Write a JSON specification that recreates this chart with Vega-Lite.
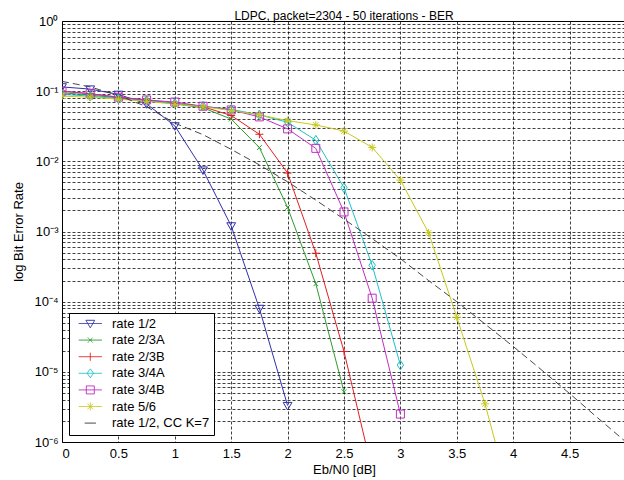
{
  "$schema": "https://vega.github.io/schema/vega-lite/v6.json",
  "width": 564,
  "height": 421,
  "autosize": {"type": "none"},
  "padding": {"left": 62, "top": 21, "right": 0, "bottom": 38},
  "background": "white",
  "title": {"text": "LDPC, packet=2304 - 50 iterations - BER", "font": "Liberation Sans", "fontSize": 12, "fontWeight": "normal", "color": "black", "offset": 5, "dy": 13, "anchor": "middle"},
  "config": {
    "view": {"stroke": "black", "strokeWidth": 1},
    "axis": {
      "labelFont": "Liberation Sans", "labelFontSize": 13, "labelColor": "black",
      "titleFont": "Liberation Sans", "titleFontSize": 13, "titleFontWeight": "normal", "titleColor": "black",
      "domain": false, "ticks": false,
      "gridColor": "black", "gridDash": [3, 2], "gridWidth": 1, "gridOpacity": 0.75,
      "labelOverlap": false
    }
  },
  "data": {"values": [
    {"series": "rate 1/2", "ebn0": 0, "ber": 0.115},
    {"series": "rate 1/2", "ebn0": 0.25, "ber": 0.107},
    {"series": "rate 1/2", "ebn0": 0.5, "ber": 0.09},
    {"series": "rate 1/2", "ebn0": 0.75, "ber": 0.066},
    {"series": "rate 1/2", "ebn0": 1, "ber": 0.032},
    {"series": "rate 1/2", "ebn0": 1.25, "ber": 0.0075},
    {"series": "rate 1/2", "ebn0": 1.5, "ber": 0.0012},
    {"series": "rate 1/2", "ebn0": 1.75, "ber": 0.00008},
    {"series": "rate 1/2", "ebn0": 2, "ber": 0.0000033},
    {"series": "rate 2/3A", "ebn0": 0, "ber": 0.095},
    {"series": "rate 2/3A", "ebn0": 0.25, "ber": 0.088},
    {"series": "rate 2/3A", "ebn0": 0.5, "ber": 0.08},
    {"series": "rate 2/3A", "ebn0": 0.75, "ber": 0.074},
    {"series": "rate 2/3A", "ebn0": 1, "ber": 0.066},
    {"series": "rate 2/3A", "ebn0": 1.25, "ber": 0.058},
    {"series": "rate 2/3A", "ebn0": 1.5, "ber": 0.04},
    {"series": "rate 2/3A", "ebn0": 1.75, "ber": 0.0157},
    {"series": "rate 2/3A", "ebn0": 2, "ber": 0.0022},
    {"series": "rate 2/3A", "ebn0": 2.25, "ber": 0.00018},
    {"series": "rate 2/3A", "ebn0": 2.5, "ber": 0.0000052},
    {"series": "rate 2/3B", "ebn0": 0, "ber": 0.1},
    {"series": "rate 2/3B", "ebn0": 0.25, "ber": 0.092},
    {"series": "rate 2/3B", "ebn0": 0.5, "ber": 0.082},
    {"series": "rate 2/3B", "ebn0": 0.75, "ber": 0.075},
    {"series": "rate 2/3B", "ebn0": 1, "ber": 0.067},
    {"series": "rate 2/3B", "ebn0": 1.25, "ber": 0.06},
    {"series": "rate 2/3B", "ebn0": 1.5, "ber": 0.045},
    {"series": "rate 2/3B", "ebn0": 1.75, "ber": 0.0243},
    {"series": "rate 2/3B", "ebn0": 2, "ber": 0.0068},
    {"series": "rate 2/3B", "ebn0": 2.25, "ber": 0.00049},
    {"series": "rate 2/3B", "ebn0": 2.5, "ber": 0.0000195},
    {"series": "rate 2/3B", "ebn0": 2.75, "ber": 0.00000039},
    {"series": "rate 3/4A", "ebn0": 0, "ber": 0.09},
    {"series": "rate 3/4A", "ebn0": 0.25, "ber": 0.085},
    {"series": "rate 3/4A", "ebn0": 0.5, "ber": 0.078},
    {"series": "rate 3/4A", "ebn0": 0.75, "ber": 0.073},
    {"series": "rate 3/4A", "ebn0": 1, "ber": 0.067},
    {"series": "rate 3/4A", "ebn0": 1.25, "ber": 0.061},
    {"series": "rate 3/4A", "ebn0": 1.5, "ber": 0.055},
    {"series": "rate 3/4A", "ebn0": 1.75, "ber": 0.046},
    {"series": "rate 3/4A", "ebn0": 2, "ber": 0.036},
    {"series": "rate 3/4A", "ebn0": 2.25, "ber": 0.02},
    {"series": "rate 3/4A", "ebn0": 2.5, "ber": 0.0042},
    {"series": "rate 3/4A", "ebn0": 2.75, "ber": 0.00033},
    {"series": "rate 3/4A", "ebn0": 3, "ber": 0.0000125},
    {"series": "rate 3/4B", "ebn0": 0, "ber": 0.1},
    {"series": "rate 3/4B", "ebn0": 0.25, "ber": 0.092},
    {"series": "rate 3/4B", "ebn0": 0.5, "ber": 0.082},
    {"series": "rate 3/4B", "ebn0": 0.75, "ber": 0.075},
    {"series": "rate 3/4B", "ebn0": 1, "ber": 0.07},
    {"series": "rate 3/4B", "ebn0": 1.25, "ber": 0.061},
    {"series": "rate 3/4B", "ebn0": 1.5, "ber": 0.054},
    {"series": "rate 3/4B", "ebn0": 1.75, "ber": 0.043},
    {"series": "rate 3/4B", "ebn0": 2, "ber": 0.029},
    {"series": "rate 3/4B", "ebn0": 2.25, "ber": 0.0153},
    {"series": "rate 3/4B", "ebn0": 2.5, "ber": 0.0019},
    {"series": "rate 3/4B", "ebn0": 2.75, "ber": 0.000112},
    {"series": "rate 3/4B", "ebn0": 3, "ber": 0.0000025},
    {"series": "rate 5/6", "ebn0": 0, "ber": 0.085},
    {"series": "rate 5/6", "ebn0": 0.25, "ber": 0.082},
    {"series": "rate 5/6", "ebn0": 0.5, "ber": 0.077},
    {"series": "rate 5/6", "ebn0": 0.75, "ber": 0.072},
    {"series": "rate 5/6", "ebn0": 1, "ber": 0.065},
    {"series": "rate 5/6", "ebn0": 1.25, "ber": 0.06},
    {"series": "rate 5/6", "ebn0": 1.5, "ber": 0.053},
    {"series": "rate 5/6", "ebn0": 1.75, "ber": 0.046},
    {"series": "rate 5/6", "ebn0": 2, "ber": 0.038},
    {"series": "rate 5/6", "ebn0": 2.25, "ber": 0.033},
    {"series": "rate 5/6", "ebn0": 2.5, "ber": 0.027},
    {"series": "rate 5/6", "ebn0": 2.75, "ber": 0.0158},
    {"series": "rate 5/6", "ebn0": 3, "ber": 0.0054},
    {"series": "rate 5/6", "ebn0": 3.25, "ber": 0.00096},
    {"series": "rate 5/6", "ebn0": 3.5, "ber": 0.00006},
    {"series": "rate 5/6", "ebn0": 3.75, "ber": 0.0000035},
    {"series": "rate 5/6", "ebn0": 4, "ber": 0.00000011},
    {"series": "rate 1/2, CC K=7", "ebn0": 0, "ber": 0.138},
    {"series": "rate 1/2, CC K=7", "ebn0": 0.25, "ber": 0.115},
    {"series": "rate 1/2, CC K=7", "ebn0": 0.5, "ber": 0.087},
    {"series": "rate 1/2, CC K=7", "ebn0": 0.75, "ber": 0.06},
    {"series": "rate 1/2, CC K=7", "ebn0": 1, "ber": 0.035},
    {"series": "rate 1/2, CC K=7", "ebn0": 1.25, "ber": 0.024},
    {"series": "rate 1/2, CC K=7", "ebn0": 1.5, "ber": 0.0148},
    {"series": "rate 1/2, CC K=7", "ebn0": 1.75, "ber": 0.0089},
    {"series": "rate 1/2, CC K=7", "ebn0": 2, "ber": 0.0051},
    {"series": "rate 1/2, CC K=7", "ebn0": 2.25, "ber": 0.0028},
    {"series": "rate 1/2, CC K=7", "ebn0": 2.5, "ber": 0.0015},
    {"series": "rate 1/2, CC K=7", "ebn0": 2.75, "ber": 0.00079},
    {"series": "rate 1/2, CC K=7", "ebn0": 3, "ber": 0.00041},
    {"series": "rate 1/2, CC K=7", "ebn0": 3.25, "ber": 0.0002},
    {"series": "rate 1/2, CC K=7", "ebn0": 3.5, "ber": 0.0001},
    {"series": "rate 1/2, CC K=7", "ebn0": 3.75, "ber": 0.000048},
    {"series": "rate 1/2, CC K=7", "ebn0": 4, "ber": 0.000023},
    {"series": "rate 1/2, CC K=7", "ebn0": 4.25, "ber": 0.0000107},
    {"series": "rate 1/2, CC K=7", "ebn0": 4.5, "ber": 0.0000049},
    {"series": "rate 1/2, CC K=7", "ebn0": 4.75, "ber": 0.0000022},
    {"series": "rate 1/2, CC K=7", "ebn0": 5, "ber": 0.000001}
  ]},
  "encoding": {
    "x": {"field": "ebn0", "type": "quantitative", "scale": {"domain": [0, 5], "nice": false, "zero": false},
      "axis": {"title": "Eb/N0 [dB]", "values": [0, 0.5, 1, 1.5, 2, 2.5, 3, 3.5, 4, 4.5], "labelPadding": 5, "titlePadding": 3, "format": "~g"}},
    "y": {"field": "ber", "type": "quantitative", "scale": {"type": "log", "domain": [0.000001, 1], "nice": false},
      "axis": {"title": "log Bit Error Rate", "titlePadding": 8, "labelPadding": 4, "labelDy": 2,
        "values": [0.000001,0.000002,0.000003,0.000004,0.000005,0.000006,0.000007,0.000008,0.000009,
                   0.00001,0.00002,0.00003,0.00004,0.00005,0.00006,0.00007,0.00008,0.00009,
                   0.0001,0.0002,0.0003,0.0004,0.0005,0.0006,0.0007,0.0008,0.0009,
                   0.001,0.002,0.003,0.004,0.005,0.006,0.007,0.008,0.009,
                   0.01,0.02,0.03,0.04,0.05,0.06,0.07,0.08,0.09,
                   0.1,0.2,0.3,0.4,0.5,0.6,0.7,0.8,0.9,1],
        "labelExpr": "datum.value == 1 ? '10⁰' : datum.value == 0.1 ? '10⁻¹' : datum.value == 0.01 ? '10⁻²' : datum.value == 0.001 ? '10⁻³' : datum.value == 0.0001 ? '10⁻⁴' : datum.value == 0.00001 ? '10⁻⁵' : datum.value == 0.000001 ? '10⁻⁶' : ''"}},
    "color": {"field": "series", "type": "nominal",
      "scale": {"domain": ["rate 1/2", "rate 2/3A", "rate 2/3B", "rate 3/4A", "rate 3/4B", "rate 5/6", "rate 1/2, CC K=7"],
                "range": ["#3030b0", "#2e9a2e", "#e02020", "#20c0c8", "#c030c0", "#c8c81e", "#333333"]},
      "legend": {"title": null,
        "orient": "bottom-left", "offset": 7, "fillColor": "white", "strokeColor": "black",
        "padding": 4, "rowPadding": 2.6, "labelFont": "Liberation Sans", "labelFontSize": 13, "labelColor": "black",
        "labelOffset": 26, "labelLimit": 0, "symbolSize": 64, "symbolStrokeWidth": 1,
        "labelExpr": "datum.label + '\u2003\u2002'",
        "encode": {"symbols": {"update": {
          "shape": {"signal": "datum.value == 'rate 1/2' ? 'M-0.2,0L5.6,0M1.6,-0.8L3.8,-0.8L2.7,1.1Z' : datum.value == 'rate 2/3A' ? 'M-0.2,0L5.6,0M2.1,-0.6L3.3,0.6M2.1,0.6L3.3,-0.6' : datum.value == 'rate 2/3B' ? 'M-0.2,0L5.6,0M2.7,-1L2.7,1' : datum.value == 'rate 3/4A' ? 'M-0.2,0L5.6,0M2.7,-1.1L3.5,0L2.7,1.1L1.9,0Z' : datum.value == 'rate 3/4B' ? 'M-0.2,0L5.6,0M1.7,-1L3.7,-1L3.7,1L1.7,1Z' : datum.value == 'rate 5/6' ? 'M-0.2,0L5.6,0M2.7,-1L2.7,1M2,-0.7L3.4,0.7M2,0.7L3.4,-0.7' : 'M1.3,0L4.1,0'"},
          "fill": {"value": "transparent"},
          "stroke": {"scale": "color", "field": "value"},
          "strokeDash": {"value": [1, 0]},
          "opacity": {"value": 1}
        }}}}
    }
  },
  "layer": [
    {
      "transform": [{"filter": "datum.series != 'rate 1/2, CC K=7'"}],
      "mark": {"type": "line", "strokeWidth": 1, "clip": true}
    },
    {
      "transform": [{"filter": "datum.series == 'rate 1/2, CC K=7'"}],
      "mark": {"type": "line", "strokeWidth": 0.9, "strokeDash": [7, 4], "clip": true}
    },
    {
      "transform": [{"filter": "datum.series != 'rate 1/2, CC K=7'"}],
      "mark": {"type": "point", "filled": false, "size": 64, "strokeWidth": 1, "opacity": 1, "clip": true},
      "encoding": {
        "shape": {"field": "series", "type": "nominal", "legend": null,
          "scale": {"domain": ["rate 1/2", "rate 2/3A", "rate 2/3B", "rate 3/4A", "rate 3/4B", "rate 5/6"],
                    "range": ["M-1.1,-0.8L1.1,-0.8L0,1.1Z", "M-0.6,-0.6L0.6,0.6M-0.6,0.6L0.6,-0.6", "M-1,0L1,0M0,-1L0,1", "M0,-1.2L0.8,0L0,1.2L-0.8,0Z", "M-1,-1L1,-1L1,1L-1,1Z", "M-1,0L1,0M0,-1L0,1M-0.7,-0.7L0.7,0.7M-0.7,0.7L0.7,-0.7"]}}
      }
    }
  ]
}
